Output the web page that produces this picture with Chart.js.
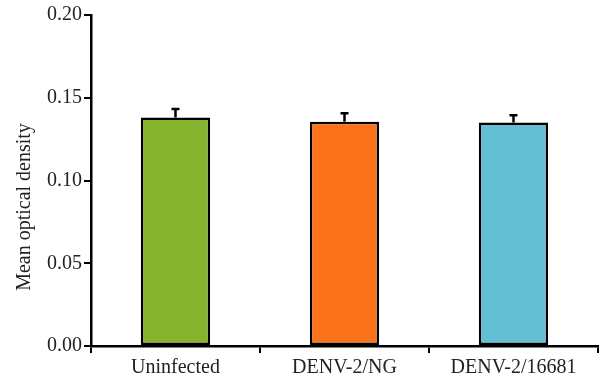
<!DOCTYPE html>
<html>
<head>
<meta charset="utf-8">
<script src="https://cdn.jsdelivr.net/npm/chart.js@4"></script>
<style>
  html, body { margin: 0; padding: 0; background: #fff; }
  #wrap { width: 614px; height: 376px; }
</style>
</head>
<body>
<div id="wrap"><canvas id="chart" width="614" height="376"></canvas></div>
<script>
const categories = ['Uninfected', 'DENV-2/NG', 'DENV-2/16681'];
const meanOD = [0.138, 0.1355, 0.1350];
const errorOD = [0.0052, 0.0052, 0.0045];
const barColors = ['#86b42e', '#fa731a', '#65bfd4'];
const yTicks = [0, 0.05, 0.10, 0.15, 0.20];

const font = { family: '"Liberation Serif", "Times New Roman", serif', size: 20 };

// draw error bars and y title on top of the bars
const extras = {
    id: 'extras',
    afterDatasetsDraw(chart) {
        const ctx = chart.ctx;
        const y = chart.scales.y;
        const meta = chart.getDatasetMeta(0);
        ctx.save();
        ctx.strokeStyle = '#000';
        ctx.lineWidth = 2.5;
        meta.data.forEach((bar, i) => {
            const top = y.getPixelForValue(meanOD[i] + errorOD[i]);
            const base = y.getPixelForValue(meanOD[i]);
            ctx.beginPath();
            ctx.moveTo(bar.x, base);
            ctx.lineTo(bar.x, top);
            ctx.moveTo(bar.x - 4, top);
            ctx.lineTo(bar.x + 4, top);
            ctx.stroke();
        });
        ctx.fillStyle = '#222';
        ctx.font = `${font.size}px ${font.family}`;
        ctx.textAlign = 'center';
        ctx.textBaseline = 'middle';
        ctx.translate(25, 207);
        ctx.rotate(-Math.PI / 2);
        ctx.fillText('Mean optical density', 0, 0);
        ctx.restore();
    }
};

new Chart(document.getElementById('chart'), {
    type: 'bar',
    data: {
        labels: categories,
        datasets: [{
            data: meanOD,
            backgroundColor: barColors,
            borderColor: '#000',
            borderWidth: 2.5,
            borderSkipped: false,
            categoryPercentage: 1,
            barPercentage: 0.41
        }]
    },
    options: {
        responsive: false,
        animation: false,
        layout: { padding: { top: 15, right: 16, left: 0, bottom: 0 } },
        plugins: { legend: { display: false }, tooltip: { enabled: false } },
        scales: {
            x: {
                grid: { offset: true, drawOnChartArea: false, color: '#000', lineWidth: 2, tickLength: 7 },
                border: { color: '#000', width: 2.5 },
                ticks: { color: '#222', font: font, padding: 3, maxRotation: 0 },
                afterFit(s) { s.height = 30; }
            },
            y: {
                min: 0,
                max: 0.2,
                afterBuildTicks(s) { s.ticks = yTicks.map(v => ({ value: v })); },
                grid: { drawOnChartArea: false, color: '#000', lineWidth: 2, tickLength: 7 },
                border: { color: '#000', width: 2.5 },
                ticks: { color: '#222', font: font, padding: 2, callback: v => v.toFixed(2) },
                afterFit(s) { s.width = 91; }
            }
        }
    },
    plugins: [extras]
});
</script>
</body>
</html>
